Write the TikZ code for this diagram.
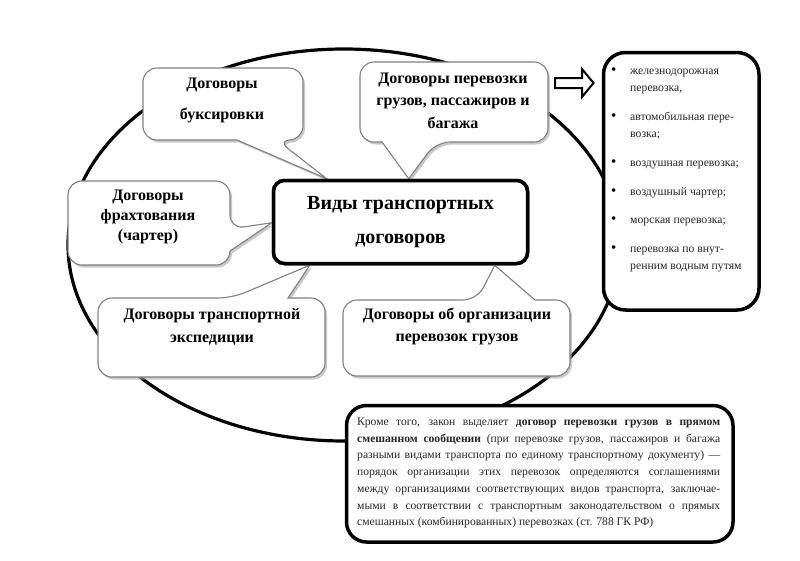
\documentclass[tikz,border=0pt]{standalone}
\usepackage{fontspec}
\setmainfont{Liberation Serif}
\usetikzlibrary{shadows,calc}
\newcommand{\lbul}{\makebox[19pt][l]{\raisebox{0.3pt}{\fontsize{15}{17}\selectfont\textcolor{black}{•}}}}
\begin{document}
\begin{tikzpicture}[x=1pt,y=-1pt,
  callout/.style={draw=black!50, line width=1.1pt, fill=white, rounded corners=14pt,
    drop shadow={shadow xshift=2pt, shadow yshift=-2.5pt, fill=black!35, opacity=0.6}},
  ctext/.style={align=center, inner sep=0pt},
  heavybox/.style={draw=black, line width=3.5pt, fill=white},
  oval/.style={draw=black, line width=3.2pt},
  hollowarrow/.style={draw=black, line width=2pt, fill=white, line join=miter},
]
\useasboundingbox (0,0) rectangle (800,560);
\fill[white] (0,0) rectangle (800,560);

% big ellipse
\draw[oval] (344,245) ellipse [x radius=276, y radius=196];

% central box (reference frame for the pointer tips)
\node[heavybox, rounded corners=11pt, minimum width=254pt, minimum height=83pt,
      inner sep=0pt] (main) at (400.5,222) {};

\coordinate (t1) at ($(main.north west)+(55,0)$);
\coordinate (t2) at ($(main.north west)+(0,44)$);
\coordinate (t3) at ($(main.north west)+(137,0)$);
\coordinate (t4) at ($(main.south west)+(38,0)$);
\coordinate (t5) at ($(main.south west)+(223,0)$);

% callouts
\draw[callout] (237,140) -- (143,140) -- (143,68) -- (303,68) -- (303,140) -- (277,140) [sharp corners] -- (t1) -- cycle;
\draw[callout] (230,251) -- (230,265) -- (68,265) -- (68,181) -- (230,181) -- (230,229) [sharp corners] -- (t2) -- cycle;
\draw[callout] (382,142) -- (360,142) -- (360,62) -- (548,62) -- (548,142) -- (436,142) [sharp corners] -- (t3) -- cycle;
\draw[callout] (288,298) -- (325,298) -- (325,377) -- (98,377) -- (98,298) -- (232,298) [sharp corners] -- (t4) -- cycle;
\draw[callout] (535,300) -- (570,300) -- (570,376) -- (343,376) -- (343,300) -- (477,300) [sharp corners] -- (t5) -- cycle;

% central box on top of the pointers
\node[heavybox, rounded corners=11pt, minimum width=254pt, minimum height=83pt,
      font=\bfseries\fontsize{20}{34}\selectfont, align=center, inner sep=0pt]
      (title) at (main.center) {Виды транспортных\\договоров};

\node[ctext, font=\bfseries\fontsize{16}{31}\selectfont] (c1) at (222,100.5) {Договоры\\буксировки};
\node[ctext, font=\bfseries\fontsize{16}{20}\selectfont] (c2) at (148,217) {Договоры\\фрахтования\\(чартер)};
\node[ctext, font=\bfseries\fontsize{16}{22.5}\selectfont] (c3) at (453,100.5) {Договоры перевозки\\грузов, пассажиров и\\багажа};
\node[ctext, font=\bfseries\fontsize{16}{23}\selectfont] (c4) at (212,326.5) {Договоры транспортной\\экспедиции};
\node[ctext, font=\bfseries\fontsize{16}{22}\selectfont] (c5) at (457,326) {Договоры об организации\\перевозок грузов};

% list box
\node[heavybox, rounded corners=22pt, minimum width=155.5pt, minimum height=257.5pt,
      anchor=north west] (list) at (601.75,50.75) {};
\node[anchor=base west, inner sep=0pt, text=black!85] (items) at (611,74.5) {\vtop{\hsize=145pt
  \fontsize{11.7}{17}\selectfont\parindent=0pt
  \lbul железнодорожная\par
  \hspace*{19pt}перевозка,\par\vspace{12pt}
  \lbul автомобильная пере-\par
  \hspace*{19pt}возка;\par\vspace{12pt}
  \lbul воздушная перевозка;\par\vspace{12pt}
  \lbul воздушный чартер;\par\vspace{11pt}
  \lbul морская перевозка;\par\vspace{12pt}
  \lbul перевозка по внут-\par
  \hspace*{19pt}ренним водным путям\par}};

% hollow arrow from c3 to list box
\draw[hollowarrow] (555,78) -- (582,78) -- (582,69) -- (593.5,83) -- (582,97) -- (582,88) -- (555,88) -- cycle;

% bottom note
\node[heavybox, rounded corners=20pt, minimum width=386.5pt, minimum height=136.5pt,
      anchor=north west] (notebox) at (344.75,403.75) {};
\node[anchor=base west, inner sep=0pt, text=black!85] (note) at (357,425.5) {\vtop{\hsize=363pt
  \fontsize{11.6}{16.7}\selectfont\parindent=0pt
  \makebox[\hsize][s]{Кроме того, закон выделяет \textbf{договор перевозки грузов в прямом}}\par
  \makebox[\hsize][s]{\textbf{смешанном сообщении} (при перевозке грузов, пассажиров и багажа}\par
  \makebox[\hsize][s]{разными видами транспорта по единому транспортному документу) —}\par
  \makebox[\hsize][s]{порядок организации этих перевозок определяются соглашениями}\par
  \makebox[\hsize][s]{между организациями соответствующих видов транспорта, заключае-}\par
  \makebox[\hsize][s]{мыми в соответствии с транспортным законодательством о прямых}\par
  \makebox[\hsize][l]{смешанных (комбинированных) перевозках (ст. 788 ГК РФ)}\par}};
\end{tikzpicture}
\end{document}
